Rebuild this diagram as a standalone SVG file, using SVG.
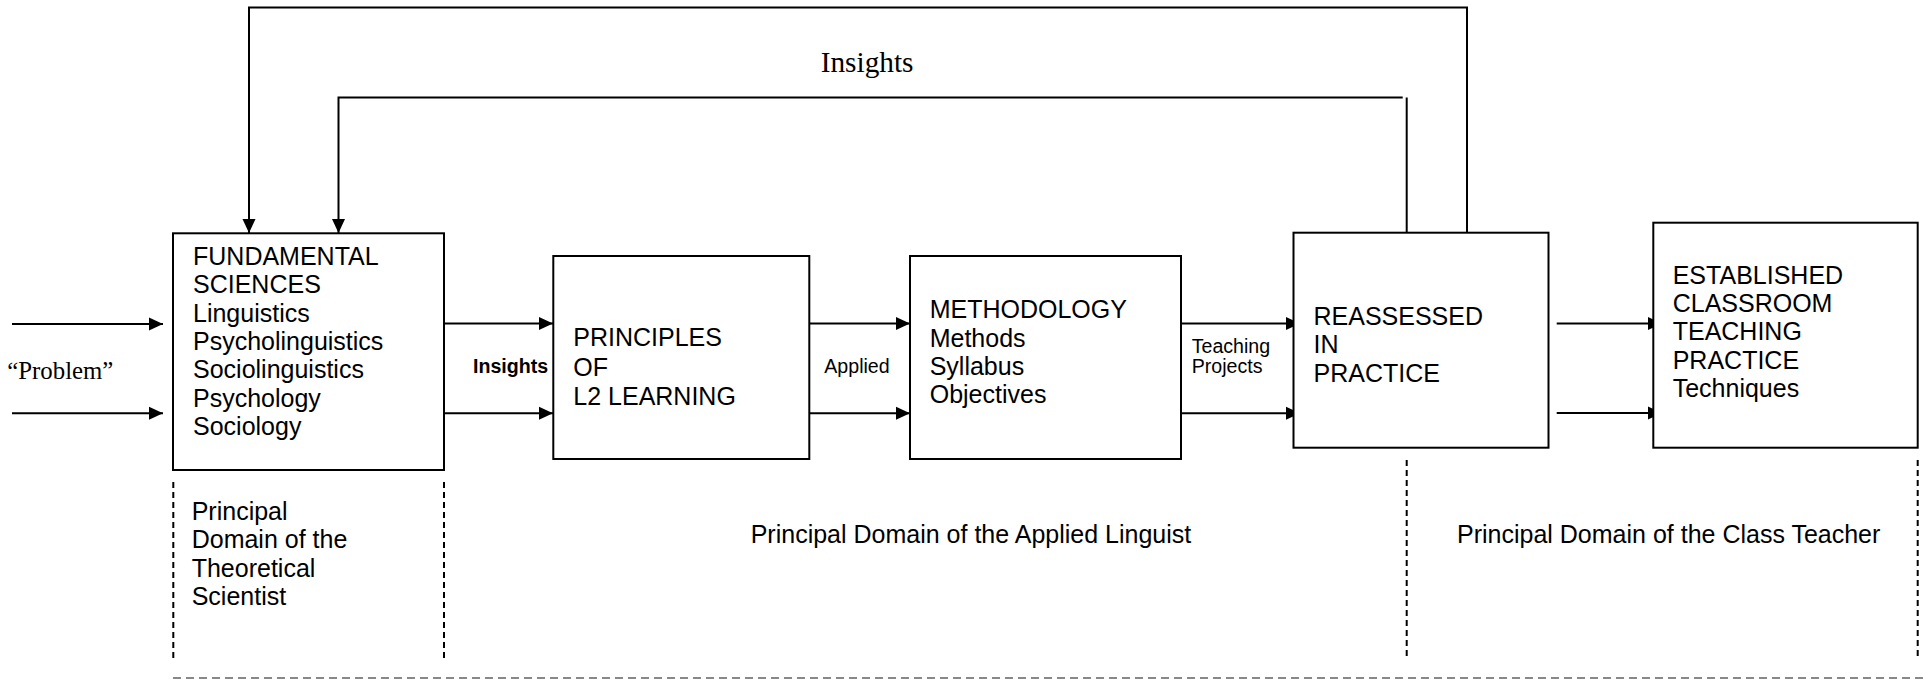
<svg xmlns="http://www.w3.org/2000/svg" width="1923" height="679" viewBox="0 0 1923 679">
<style>
.box{fill:#fff;stroke:#000;stroke-width:2}
.ln{fill:none;stroke:#000;stroke-width:2}
.dv{fill:none;stroke:#000;stroke-width:2;stroke-dasharray:6 4}
.dh{fill:none;stroke:#888;stroke-width:1.8;stroke-dasharray:8 5}
.t{font-family:"Liberation Sans",Arial,sans-serif;font-size:25px;fill:#000}
.s{font-family:"Liberation Sans",Arial,sans-serif;font-size:19.6px;fill:#000}
.b{font-family:"Liberation Sans",Arial,sans-serif;font-size:19.6px;font-weight:bold;fill:#000}
.r{font-family:"Liberation Serif","Times New Roman",serif;fill:#000}
</style>
<defs>
<marker id="ah" viewBox="0 0 14 14" refX="14" refY="7" markerWidth="14" markerHeight="14" markerUnits="userSpaceOnUse" orient="auto">
<path d="M0,0.5 L14,7 L0,13.5 Z" fill="#000"/>
</marker>
</defs>
<rect width="1923" height="679" fill="#fff"/>

<g id="connectors">
<path class="ln" d="M1467,233 V7.5 H249 V233" marker-end="url(#ah)"/>
<path class="ln" d="M1402.7,97.5 H338.5 V233" marker-end="url(#ah)"/>
<path class="ln" d="M1406.7,97.5 V233"/>
<path class="ln" d="M12,324 H163" marker-end="url(#ah)"/>
<path class="ln" d="M12,413.3 H163" marker-end="url(#ah)"/>
<path class="ln" d="M444,323.5 H553" marker-end="url(#ah)"/>
<path class="ln" d="M444,413.3 H553" marker-end="url(#ah)"/>
<path class="ln" d="M805,323.5 H910" marker-end="url(#ah)"/>
<path class="ln" d="M805,413.3 H910" marker-end="url(#ah)"/>
<path class="ln" d="M1181,323.5 H1300" marker-end="url(#ah)"/>
<path class="ln" d="M1181,413.3 H1300" marker-end="url(#ah)"/>
<path class="ln" d="M1556.7,323.5 H1662" marker-end="url(#ah)"/>
<path class="ln" d="M1556.7,413 H1662" marker-end="url(#ah)"/>
</g>

<g id="domains">
<path class="dv" d="M173.3,482 V659"/>
<path class="dv" d="M444,482 V659"/>
<path class="dv" d="M1406.7,460 V659"/>
<path class="dv" d="M1917.7,460 V659"/>
<path class="dh" d="M173,678 H1923"/>
</g>

<g id="fundamental">
<rect class="box" x="173" y="233.3" width="271" height="236.7"/>
<text class="t" x="193" y="265">FUNDAMENTAL</text>
<text class="t" x="193" y="293.3">SCIENCES</text>
<text class="t" x="193" y="321.7">Linguistics</text>
<text class="t" x="193" y="350">Psycholinguistics</text>
<text class="t" x="193" y="378.3">Sociolinguistics</text>
<text class="t" x="193" y="406.7">Psychology</text>
<text class="t" x="193" y="435">Sociology</text>
</g>

<g id="principles">
<rect class="box" x="553.3" y="256" width="256" height="203"/>
<text class="t" x="573.3" y="346">PRINCIPLES</text>
<text class="t" x="573.3" y="375.5">OF</text>
<text class="t" x="573.3" y="405">L2 LEARNING</text>
</g>

<g id="methodology">
<rect class="box" x="910" y="256" width="271" height="203"/>
<text class="t" x="929.7" y="318">METHODOLOGY</text>
<text class="t" x="929.7" y="346.5">Methods</text>
<text class="t" x="929.7" y="375">Syllabus</text>
<text class="t" x="929.7" y="403.3">Objectives</text>
</g>

<g id="reassessed">
<rect class="box" x="1293.5" y="232.7" width="255" height="215"/>
<text class="t" x="1313.5" y="325">REASSESSED</text>
<text class="t" x="1313.5" y="353.3">IN</text>
<text class="t" x="1313.5" y="381.7">PRACTICE</text>
</g>

<g id="established">
<rect class="box" x="1653.3" y="222.7" width="264.4" height="225"/>
<text class="t" x="1672.7" y="284">ESTABLISHED</text>
<text class="t" x="1672.7" y="312">CLASSROOM</text>
<text class="t" x="1672.7" y="340.3">TEACHING</text>
<text class="t" x="1672.7" y="368.7">PRACTICE</text>
<text class="t" x="1672.7" y="397.3">Techniques</text>
</g>

<g id="labels">
<text class="r" x="820.7" y="71.7" font-size="29.3">Insights</text>
<text class="r" x="7.3" y="379" font-size="24.8">“Problem”</text>
<text class="b" x="473" y="372.7">Insights</text>
<text class="s" x="824.3" y="373.3">Applied</text>
<text class="s" x="1191.7" y="353.3">Teaching</text>
<text class="s" x="1191.7" y="373.3">Projects</text>
<text class="t" x="191.7" y="520">Principal</text>
<text class="t" x="191.7" y="548.3">Domain of the</text>
<text class="t" x="191.7" y="576.7">Theoretical</text>
<text class="t" x="191.7" y="605">Scientist</text>
<text class="t" x="750.7" y="543.3">Principal Domain of the Applied Linguist</text>
<text class="t" x="1457" y="543.3">Principal Domain of the Class Teacher</text>
</g>
</svg>
